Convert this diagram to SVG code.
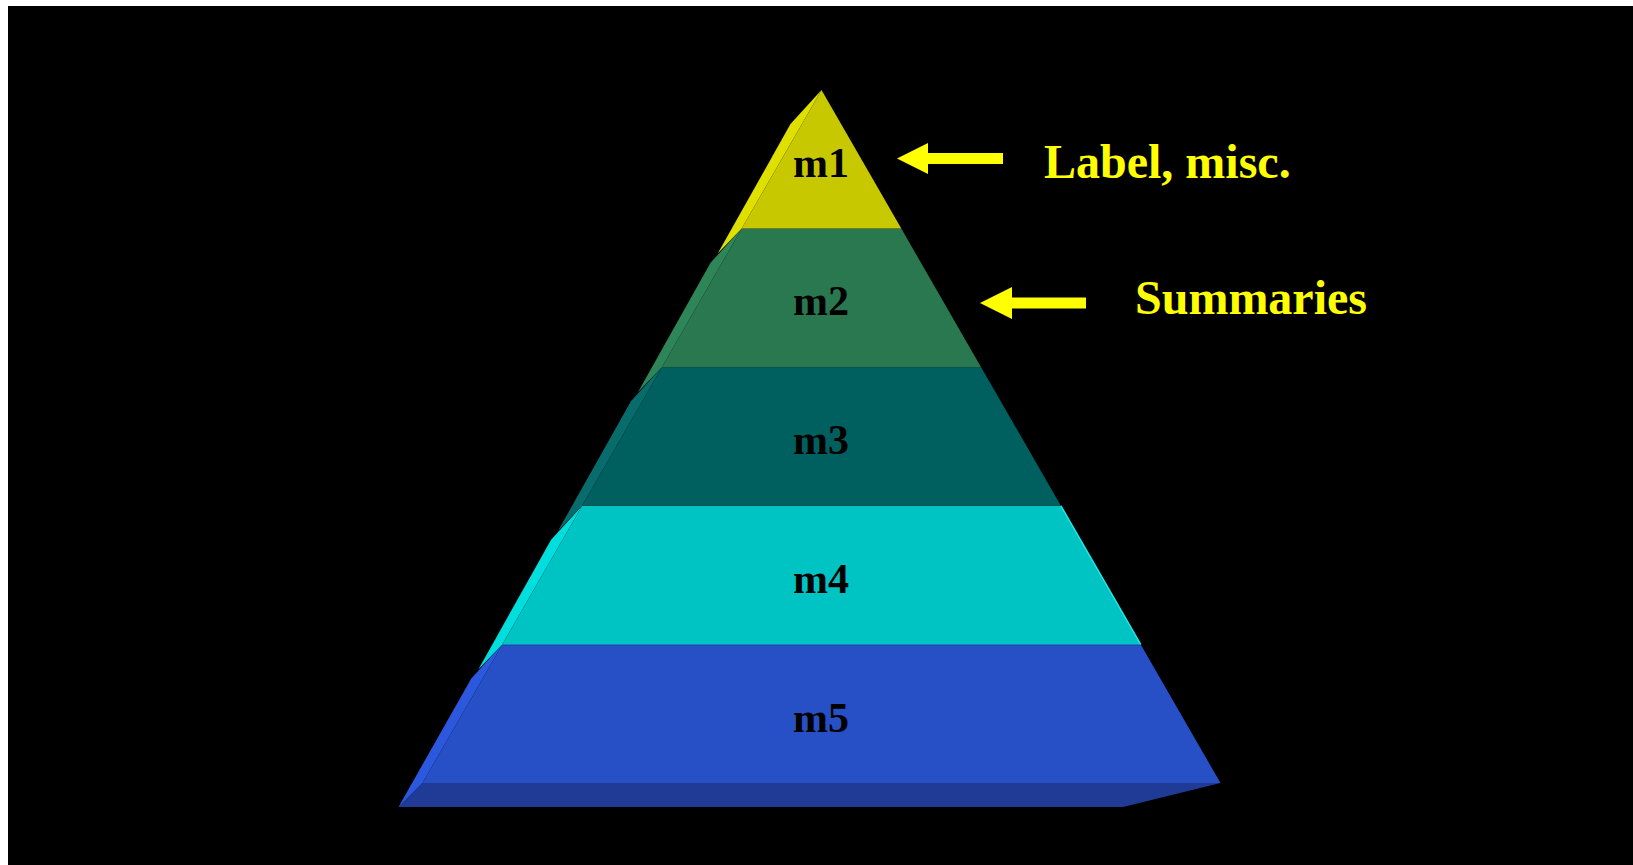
<svg xmlns="http://www.w3.org/2000/svg" width="1633" height="865" viewBox="0 0 1633 865">
  <style>
    .lvl { font-family: "Liberation Serif", "Times New Roman", serif; font-weight: bold; font-size: 42px; fill: #000000; text-anchor: middle; }
    .lbl { font-family: "Liberation Serif", "Times New Roman", serif; font-weight: bold; font-size: 48px; fill: #FFFF00; }
    .arrow { fill: #FFFF00; }
  </style>
  <rect x="0" y="0" width="1633" height="865" fill="#FFFFFF"/>
  <rect x="8" y="6" width="1625" height="859" fill="#000000"/>

  <g id="m5">
    <polygon points="422.5,783 1220.5,783 1123,807 398.5,807" fill="#1F3B96"/>
    <polygon points="502.3,644.4 471.3,678.4 398.5,807 422.5,783" fill="#2C58DE"/>
    <polygon points="502.3,644.4 1140.7,644.4 1220.5,783 422.5,783" fill="#2850C6"/>
    <line x1="502.3" y1="645" x2="1140.7" y2="645" stroke="#2347B4" stroke-width="2"/>
    <text class="lvl" x="821" y="732">m5</text>
  </g>

  <g id="m4">
    <polygon points="582.1,505.8 551.1,539.8 478.3,669.4 502.3,644.4" fill="#00DEDE"/>
    <polygon points="582.1,505.8 1060.9,505.8 1140.7,644.4 502.3,644.4" fill="#00C4C4"/>
    <line x1="1060.9" y1="505.8" x2="1140.7" y2="644.4" stroke="#22E6E6" stroke-width="1.5"/>
    <text class="lvl" x="821" y="593">m4</text>
  </g>

  <g id="m3">
    <polygon points="661.9,367.2 630.9,401.2 558.1,530.8 582.1,505.8" fill="#086C6C"/>
    <polygon points="661.9,367.2 981.1,367.2 1060.9,505.8 582.1,505.8" fill="#006060"/>
    <text class="lvl" x="821" y="454">m3</text>
  </g>

  <g id="m2">
    <polygon points="741.7,228.6 710.7,262.6 637.9,392.2 661.9,367.2" fill="#2E8558"/>
    <polygon points="741.7,228.6 901.3,228.6 981.1,367.2 661.9,367.2" fill="#2A7850"/>
    <text class="lvl" x="821" y="315">m2</text>
  </g>

  <g id="m1">
    <polygon points="821.5,90 790.5,124 717.7,253.6 741.7,228.6" fill="#E0E000"/>
    <polygon points="821.5,90 901.3,228.6 741.7,228.6" fill="#C8C800"/>
    <text class="lvl" x="821" y="177">m1</text>
  </g>

  <g id="connectors">
    <polygon class="arrow" points="897,158.5 928,143 928,153 1003,153 1003,164 928,164 928,174"/>
    <polygon class="arrow" points="980,303 1012,287 1012,297.5 1086,297.5 1086,308.5 1012,308.5 1012,319"/>
  </g>

  <g id="label-misc">
    <text class="lbl" x="1044" y="178">Label, misc.</text>
  </g>
  <g id="label-summaries">
    <text class="lbl" x="1135" y="314">Summaries</text>
  </g>
</svg>
